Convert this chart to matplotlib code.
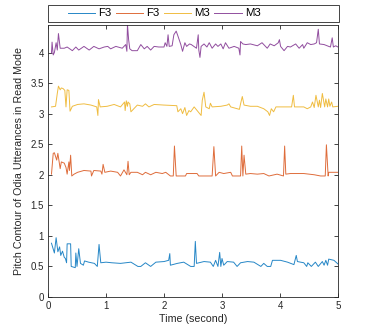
import matplotlib
matplotlib.use("Agg")
import matplotlib.pyplot as plt
from matplotlib.patches import Rectangle

plt.rcParams["font.family"] = ["Liberation Sans", "DejaVu Sans"]

labels = ["F3", "F3", "M3", "M3"]
colors = ["#0072BD", "#D95319", "#EDB120", "#7E2F8E"]

f3a_t = [0.06, 0.11, 0.14, 0.17, 0.20, 0.22, 0.25, 0.28, 0.30, 0.32, 0.33, 0.39, 0.40, 0.47, 0.48, 0.50,
         0.53, 0.56, 0.61, 0.63, 0.70, 0.80, 0.85, 0.88, 0.91, 1.00, 1.10, 1.25, 1.43, 1.55, 1.60,
         1.68, 1.77, 1.86, 2.00, 2.08, 2.10, 2.11, 2.23, 2.34, 2.46, 2.52, 2.54, 2.56, 2.69, 2.80,
         2.85, 2.89, 2.93, 2.96, 2.98, 3.00, 3.03, 3.09, 3.20, 3.26, 3.32, 3.44, 3.55, 3.67, 3.72,
         3.78, 3.84, 3.87, 4.01, 4.13, 4.24, 4.28, 4.30, 4.41, 4.46, 4.48, 4.54, 4.61, 4.66, 4.73,
         4.76, 4.79, 4.82, 4.84, 4.93, 5.00]
f3a_v = [0.88, 0.72, 0.97, 0.74, 0.82, 0.68, 0.75, 0.65, 0.63, 0.56, 0.87, 0.87, 0.50, 0.48, 0.72, 0.50,
         0.79, 0.55, 0.52, 0.59, 0.57, 0.55, 0.50, 0.86, 0.56, 0.57, 0.56, 0.55, 0.57, 0.50, 0.50,
         0.56, 0.50, 0.57, 0.58, 0.60, 0.71, 0.52, 0.55, 0.57, 0.50, 0.50, 0.91, 0.55, 0.58, 0.57,
         0.50, 0.60, 0.50, 0.73, 0.50, 0.63, 0.52, 0.58, 0.57, 0.50, 0.56, 0.58, 0.57, 0.50, 0.55,
         0.50, 0.50, 0.60, 0.60, 0.57, 0.53, 0.68, 0.58, 0.56, 0.50, 0.56, 0.50, 0.57, 0.50, 0.58,
         0.52, 0.60, 0.52, 0.62, 0.60, 0.54]

f3b_t = [0.06, 0.09, 0.11, 0.15, 0.17, 0.21, 0.23, 0.28, 0.31, 0.33, 0.36, 0.37, 0.39, 0.41, 0.45,
         0.51, 0.62, 0.74, 0.75, 0.79, 0.91, 0.93, 0.95, 0.98, 1.08, 1.20, 1.25, 1.31, 1.36, 1.38,
         1.40, 1.43, 1.54, 1.63, 1.68, 1.77, 1.86, 1.97, 2.03, 2.11, 2.16, 2.18, 2.21, 2.37, 2.39,
         2.57, 2.60, 2.83, 2.86, 2.89, 2.95, 3.03, 3.15, 3.18, 3.32, 3.34, 3.36, 3.38, 3.41, 3.49,
         3.61, 3.72, 3.81, 3.95, 4.06, 4.08, 4.10, 4.18, 4.41, 4.59, 4.70, 4.78, 4.80, 4.83, 4.84,
         5.00]
f3b_v = [2.01, 2.35, 2.36, 2.24, 2.35, 2.10, 2.21, 2.19, 2.12, 2.01, 2.21, 2.07, 2.32, 1.98, 2.01,
         2.04, 2.07, 2.06, 1.98, 2.07, 2.06, 2.01, 2.17, 2.04, 2.06, 2.04, 1.98, 2.08, 2.00, 2.22,
         2.00, 2.04, 2.04, 2.00, 2.04, 2.00, 2.04, 2.02, 2.04, 1.98, 1.98, 2.47, 1.98, 1.98, 2.02,
         2.02, 1.98, 1.98, 2.46, 1.98, 2.04, 2.02, 2.04, 1.98, 1.98, 2.47, 1.98, 2.32, 2.01, 2.02,
         2.01, 2.02, 1.98, 2.01, 1.98, 2.47, 2.01, 2.02, 2.02, 2.00, 1.98, 1.98, 2.49, 1.98, 2.04,
         2.04]

m3a_t = [0.06, 0.13, 0.16, 0.18, 0.21, 0.23, 0.26, 0.29, 0.31, 0.33, 0.36, 0.38, 0.42, 0.51, 0.62,
         0.74, 0.84, 0.86, 0.87, 0.90, 1.02, 1.14, 1.25, 1.32, 1.33, 1.35, 1.37, 1.38, 1.41, 1.43,
         1.48, 1.54, 1.63, 1.68, 1.74, 1.83, 2.00, 2.22, 2.24, 2.29, 2.32, 2.36, 2.39, 2.43, 2.46,
         2.52, 2.64, 2.66, 2.69, 2.72, 2.78, 2.80, 2.83, 2.98, 3.09, 3.12, 3.15, 3.30, 3.32, 3.35,
         3.38, 3.49, 3.61, 3.72, 3.79, 3.82, 3.85, 3.89, 3.93, 4.07, 4.20, 4.23, 4.25, 4.41, 4.47,
         4.53, 4.56, 4.59, 4.62, 4.66, 4.68, 4.70, 4.73, 4.77, 4.79, 4.82, 4.84, 4.86, 4.89, 4.91,
         5.00]
m3a_v = [3.11, 3.12, 3.33, 3.45, 3.39, 3.42, 3.41, 3.38, 3.11, 3.39, 3.38, 3.04, 3.12, 3.15, 3.16,
         3.14, 3.11, 2.97, 3.23, 3.11, 3.12, 3.15, 3.11, 3.19, 3.05, 3.21, 3.12, 3.19, 3.16, 3.03,
         3.08, 3.14, 3.12, 3.16, 3.11, 3.15, 3.14, 3.13, 3.03, 3.08, 3.00, 3.10, 2.97, 3.05, 3.03,
         3.11, 2.97, 3.22, 3.35, 3.11, 3.08, 3.17, 3.11, 3.12, 3.14, 3.16, 3.11, 3.07, 3.16, 3.28,
         3.14, 3.12, 3.12, 3.08, 3.03, 2.97, 3.08, 3.03, 3.11, 3.11, 3.11, 3.30, 3.11, 3.11, 3.08,
         3.11, 3.19, 3.10, 3.30, 3.11, 3.22, 3.10, 3.33, 3.11, 3.24, 3.11, 3.24, 3.12, 3.19, 3.11,
         3.12]

m3b_t = [0.06, 0.07, 0.09, 0.11, 0.14, 0.16, 0.18, 0.21, 0.28, 0.33, 0.42, 0.48, 0.53, 0.62, 0.71,
         0.79, 0.88, 0.97, 1.03, 1.08, 1.17, 1.28, 1.34, 1.36, 1.37, 1.39, 1.41, 1.45, 1.54, 1.60,
         1.66, 1.71, 1.77, 1.83, 1.91, 2.00, 2.02, 2.05, 2.07, 2.09, 2.14, 2.17, 2.21, 2.24, 2.29,
         2.32, 2.36, 2.39, 2.44, 2.47, 2.56, 2.59, 2.60, 2.62, 2.64, 2.69, 2.74, 2.78, 2.83, 2.89,
         2.93, 2.98, 3.02, 3.06, 3.12, 3.21, 3.29, 3.31, 3.32, 3.36, 3.41, 3.49, 3.61, 3.69, 3.78,
         3.83, 3.90, 3.97, 3.99, 4.01, 4.07, 4.13, 4.18, 4.27, 4.33, 4.39, 4.41, 4.47, 4.53, 4.59,
         4.63, 4.66, 4.68, 4.76, 4.84, 4.87, 4.90, 4.92, 4.96, 5.00]
m3b_v = [3.99, 4.17, 3.96, 4.00, 4.16, 4.04, 4.31, 4.07, 4.07, 4.09, 4.03, 4.09, 4.04, 4.10, 4.04,
         4.10, 4.06, 4.09, 4.10, 4.06, 4.10, 4.07, 4.13, 4.02, 4.46, 4.21, 4.06, 4.03, 4.03, 4.13,
         4.06, 4.10, 4.04, 4.10, 4.09, 4.09, 4.16, 4.10, 4.29, 4.10, 4.11, 4.29, 4.35, 4.27, 4.13,
         4.02, 4.16, 4.10, 4.14, 4.13, 4.07, 4.29, 4.04, 3.92, 4.10, 4.14, 4.09, 4.16, 4.07, 4.14,
         4.10, 4.14, 4.06, 4.16, 4.07, 4.10, 4.07, 3.96, 4.18, 4.14, 4.13, 4.14, 4.11, 4.16, 4.07,
         4.14, 4.11, 4.16, 4.21, 4.10, 4.03, 4.10, 4.09, 4.14, 4.07, 4.13, 4.07, 4.16, 4.13, 4.14,
         4.16, 4.38, 4.14, 4.13, 4.10, 4.09, 4.24, 4.09, 4.11, 4.09]

series = [(f3a_t, f3a_v), (f3b_t, f3b_v), (m3a_t, m3a_v), (m3b_t, m3b_v)]

W, H = 374, 334
fig = plt.figure(figsize=(W / 100, H / 100), dpi=100)
ax = fig.add_axes([48 / W, 1 - 297 / H, 290 / W, 272 / H])

handles = []
for (t, v), c, lab in zip(series, colors, labels):
    h, = ax.plot(t, v, color=c, lw=0.7, alpha=0.85, label=lab)
    handles.append(h)

ax.set_xlim(0, 5)
ax.set_ylim(0, 4.45)
ax.set_xticks([0, 1, 2, 3, 4, 5])
ax.set_yticks([0, 0.5, 1, 1.5, 2, 2.5, 3, 3.5, 4])
ax.set_yticklabels(["0", "0.5", "1", "1.5", "2", "2.5", "3", "3.5", "4"])
ax.tick_params(direction="in", length=3, width=0.6, colors="#262626", labelsize=7,
               top=True, right=True, pad=3)
for s in ax.spines.values():
    s.set_color("#262626")
    s.set_linewidth(0.6)
ax.set_xlabel("Time (second)", fontsize=7.7, color="#262626", labelpad=2)
ax.set_ylabel("Pitch Contour of Odia Utterances in Read Mode", fontsize=7.7, color="#262626", labelpad=5)

fig.patches.append(Rectangle((48 / W, 1 - 22 / H), 291 / W, 17 / H, transform=fig.transFigure,
                             fill=False, edgecolor="#262626", linewidth=0.6))
fig.legend(handles=handles, loc="center left", bbox_to_anchor=(68 / W, 1 - 13.5 / H), ncol=4,
           frameon=False, fontsize=8.2, handlelength=2.4, handletextpad=0.25, columnspacing=0.4,
           borderpad=0, borderaxespad=0)

fig.savefig("out.png", dpi=100, facecolor="white")
